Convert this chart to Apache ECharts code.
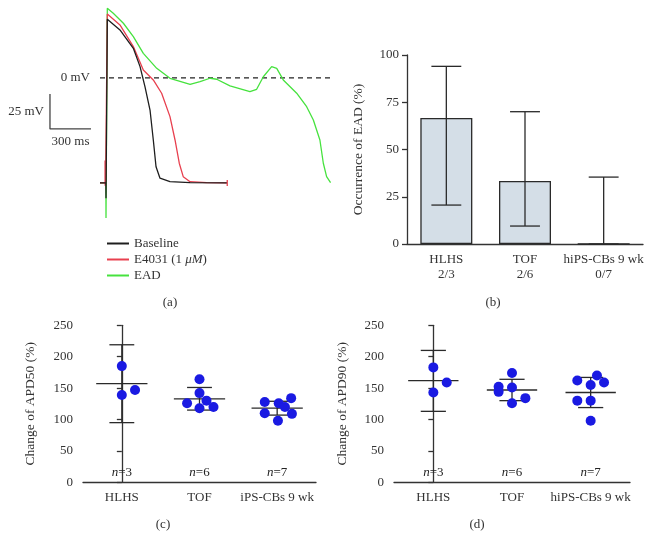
<!DOCTYPE html>
<html>
<head>
<meta charset="utf-8">
<script src="https://cdn.jsdelivr.net/npm/echarts@6/dist/echarts.min.js"></script>
<style>
  html, body { margin: 0; padding: 0; background: #fff; }
  #main { width: 652px; height: 552px; }
</style>
</head>
<body>
<div id="main"></div>
<script>
// (a) action potential traces: [time ms, voltage mV]
var baselineTrace = [[-44,-75],[-1,-75],[0,-86],[9.5,42],[102,34.3],[200,21.2],[249,8.1],[285,-6.2],[322,-22.9],[346,-44.3],[366,-63.4],[395,-71.6],[468,-74.1],[615,-74.8],[883,-75]];
var e4031Trace = [[-44,-75],[-7,-75],[-7,-59],[-6,-77],[-3,-75],[0,-75],[9.5,45.7],[102,37.9],[200,22.4],[273,5.7],[346,-1.4],[407,-10.9],[468,-27.6],[505,-44.3],[536,-60.9],[565,-70.5],[615,-74.1],[736,-74.8],[887,-75],[887,-72.9],[887,-77.1]];
var eadTrace = [[-44,-75],[-1,-75],[0,-100],[9.5,49.8],[53,46.2],[127,39.1],[200,29.5],[273,17.6],[371,6.9],[468,-0.2],[615,-4.5],[688,-2.6],[761,-0.2],[810,-0.9],[907,-5.7],[1053,-9.8],[1102,-8.1],[1151,0.9],[1212,8.1],[1249,6.9],[1297,-1.4],[1395,-10.9],[1468,-20.5],[1517,-30],[1565,-44.3],[1590,-60.9],[1614,-70.5],[1643,-74.8]];
var zeroLine = [[-44,0],[1660,0]];
var scaleBar = [[-410,-11.4],[-410,-36.4],[-110,-36.4]];

// (b) occurrence of EAD
var eadGroups = ['HLHS\n2/3', 'TOF\n2/6', 'hiPS-CBs 9 wk\n0/7'];
var eadPct = [66.7, 33.3, 0];
var eadLow = [20.6, 9.5, 0];
var eadHigh = [94, 70, 35.4];

// (c) change of APD50
var apd50Groups = ['HLHS', 'TOF', 'iPS-CBs 9 wk'];
var apd50 = [[185,139,147],[164,142,126,130,120,118],[128,110,98,126,120,134,109]];
var apd50Jitter = [[0,0,0.17],[0,0,-0.16,0.09,0.18,0],[-0.16,-0.16,0.01,0.02,0.1,0.18,0.19]];
var apd50Mean = [157, 133, 118];
var apd50Low = [95, 115, 107];
var apd50High = [219, 151, 129];

// (d) change of APD90
var apd90Groups = ['HLHS', 'TOF', 'hiPS-CBs 9 wk'];
var apd90 = [[183,143,159],[174,152,144,151,134,126],[162,170,159,155,130,130,98]];
var apd90Jitter = [[0,0,0.17],[0,-0.17,-0.17,0,0.17,0],[-0.17,0.08,0.17,0,-0.17,0,0]];
var apd90Mean = [162, 147, 143];
var apd90Low = [113, 130, 119];
var apd90High = [210, 164, 167];

var nCounts = [3, 6, 7];

var FONT = 'Liberation Serif';
var INK = '#333';

function dots(values, jitter) {
  var out = [];
  values.forEach(function (g, gi) {
    g.forEach(function (v, i) { out.push([gi + jitter[gi][i], v]); });
  });
  return out;
}
function errRows(mean, low, high) {
  return mean.map(function (m, i) { return [i, m, low[i], high[i]]; });
}
function errorRender(capW, meanW) {
  return function (params, api) {
    var x = api.value(0);
    var m = api.coord([x, api.value(1)]);
    var lo = api.coord([x, api.value(2)]);
    var hi = api.coord([x, api.value(3)]);
    var band = api.size([1, 0])[0];
    var st = { stroke: '#2a2a2a', lineWidth: 1.3 };
    var ch = [
      { type: 'line', shape: { x1: m[0], y1: lo[1], x2: m[0], y2: hi[1] }, style: st },
      { type: 'line', shape: { x1: m[0] - capW * band / 2, y1: hi[1], x2: m[0] + capW * band / 2, y2: hi[1] }, style: st },
      { type: 'line', shape: { x1: m[0] - capW * band / 2, y1: lo[1], x2: m[0] + capW * band / 2, y2: lo[1] }, style: st }
    ];
    if (meanW) {
      ch.push({ type: 'line', shape: { x1: m[0] - meanW * band / 2, y1: m[1], x2: m[0] + meanW * band / 2, y2: m[1] }, style: st });
    }
    return { type: 'group', children: ch };
  };
}
function catAxis(grid, cats, lh) {
  return {
    type: 'category', gridIndex: grid, data: cats,
    axisLine: { lineStyle: { color: INK, width: 1.3 } },
    axisTick: { alignWithLabel: true, length: 5, lineStyle: { color: INK, width: 1.3 } },
    axisLabel: { color: INK, fontFamily: FONT, fontSize: 13, margin: 8, lineHeight: lh, interval: 0 }
  };
}
function valAxis(grid, max, interval, name, gap, margin) {
  return {
    type: 'value', gridIndex: grid, min: 0, max: max, interval: interval,
    name: name, nameLocation: 'middle', nameGap: gap, nameRotate: 90,
    nameTextStyle: { color: INK, fontFamily: FONT, fontSize: 13.5 },
    splitLine: { show: false },
    axisLine: { show: true, lineStyle: { color: INK, width: 1.3 } },
    axisTick: { show: true, length: 5, lineStyle: { color: INK, width: 1.3 } },
    axisLabel: { color: INK, fontFamily: FONT, fontSize: 13, margin: margin }
  };
}
function nLabels(xIdx, yIdx) {
  return {
    type: 'scatter', xAxisIndex: xIdx, yAxisIndex: yIdx, symbolSize: 0, silent: true,
    itemStyle: { opacity: 1 },
    data: nCounts.map(function (n, i) { return { value: [i, 15], n: n }; }),
    label: {
      show: true, position: 'inside', color: '#222', fontFamily: FONT, fontSize: 13,
      formatter: function (p) { return '{i|n}=' + p.data.n; },
      rich: { i: { fontStyle: 'italic', fontFamily: FONT, fontSize: 13, color: '#222' } }
    }
  };
}

var chart = echarts.init(document.getElementById('main'));
chart.setOption({
  backgroundColor: '#fff',
  animation: false,
  textStyle: { fontFamily: FONT },
  grid: [
    { left: 40, top: 0, width: 300, height: 230 },
    { left: 407, top: 55, width: 236, height: 189 },
    { left: 83, top: 325.3, width: 233, height: 157 },
    { left: 394, top: 325.3, width: 236, height: 157 }
  ],
  xAxis: [
    { type: 'value', gridIndex: 0, min: -483, max: 1712, show: false },
    catAxis(1, eadGroups, 15),
    catAxis(2, apd50Groups, 15),
    { type: 'value', gridIndex: 2, min: -0.5, max: 2.5, show: false },
    catAxis(3, apd90Groups, 15),
    { type: 'value', gridIndex: 3, min: -0.5, max: 2.5, show: false }
  ],
  yAxis: [
    { type: 'value', gridIndex: 0, min: -108.6, max: 55.7, show: false },
    valAxis(1, 100, 25, 'Occurrence of EAD (%)', 42, 8),
    valAxis(2, 250, 50, 'Change of APD50 (%)', 46, 10),
    valAxis(3, 250, 50, 'Change of APD90 (%)', 45, 10)
  ],
  legend: {
    data: ['Baseline', 'E4031 (1 μM)', 'EAD'],
    orient: 'vertical', left: 101, top: 232,
    itemWidth: 22, itemHeight: 14, itemGap: 3,
    itemStyle: { color: 'transparent', borderColor: 'transparent', borderWidth: 0, opacity: 0 },
    textStyle: {
      color: INK, fontFamily: FONT, fontSize: 13,
      rich: { i: { fontStyle: 'italic', fontFamily: FONT, fontSize: 13, color: INK } }
    },
    formatter: function (name) { return name === 'E4031 (1 μM)' ? 'E4031 (1 {i|μM})' : name; }
  },
  graphic: [
    { type: 'text', style: { text: '(a)', x: 170, y: 303, align: 'center', verticalAlign: 'middle', font: '13px "Liberation Serif"', fill: INK } },
    { type: 'text', style: { text: '(b)', x: 493, y: 303, align: 'center', verticalAlign: 'middle', font: '13px "Liberation Serif"', fill: INK } },
    { type: 'text', style: { text: '(c)', x: 163, y: 525, align: 'center', verticalAlign: 'middle', font: '13px "Liberation Serif"', fill: INK } },
    { type: 'text', style: { text: '(d)', x: 477, y: 525, align: 'center', verticalAlign: 'middle', font: '13px "Liberation Serif"', fill: INK } }
  ],
  series: [
    // (a)
    { type: 'line', name: 'zero', xAxisIndex: 0, yAxisIndex: 0, data: zeroLine, symbol: 'none', silent: true,
      lineStyle: { color: '#222', width: 1.2, type: [5, 4] } },
    { type: 'line', name: 'scale', xAxisIndex: 0, yAxisIndex: 0, data: scaleBar, symbol: 'none', silent: true,
      lineStyle: { color: '#444', width: 1.3 } },
    { type: 'scatter', xAxisIndex: 0, yAxisIndex: 0, symbolSize: 0, silent: true, itemStyle: { opacity: 1 },
      data: [
        { value: [-44, 0], name: '0 mV', label: { position: 'left', distance: 10 } },
        { value: [-410, -23.9], name: '25 mV', label: { position: 'left', distance: 6 } },
        { value: [-260, -36.4], name: '300 ms', label: { position: 'bottom', distance: 6 } }
      ],
      label: { show: true, formatter: '{b}', color: INK, fontFamily: FONT, fontSize: 13 } },
    { type: 'line', name: 'EAD', xAxisIndex: 0, yAxisIndex: 0, data: eadTrace, symbol: 'none',
      itemStyle: { color: '#46e23e' }, lineStyle: { color: '#46e23e', width: 1.3 } },
    { type: 'line', name: 'E4031 (1 μM)', xAxisIndex: 0, yAxisIndex: 0, data: e4031Trace, symbol: 'none',
      itemStyle: { color: '#e8404f' }, lineStyle: { color: '#e8404f', width: 1.3 } },
    { type: 'line', name: 'Baseline', xAxisIndex: 0, yAxisIndex: 0, data: baselineTrace, symbol: 'none',
      itemStyle: { color: '#1e1e1e' }, lineStyle: { color: '#1e1e1e', width: 1.3 } },
    // (b)
    { type: 'bar', xAxisIndex: 1, yAxisIndex: 1, data: eadPct, barWidth: 52,
      itemStyle: { color: '#d4dee7', borderColor: '#2a2a2a', borderWidth: 1.3 } },
    { type: 'custom', xAxisIndex: 1, yAxisIndex: 1, z: 5, renderItem: errorRender(0.38, 0),
      data: errRows(eadPct, eadLow, eadHigh), encode: { x: 0, y: [1, 2, 3] } },
    // (c)
    { type: 'custom', xAxisIndex: 2, yAxisIndex: 2, z: 3, renderItem: errorRender(0.32, 0.66),
      data: errRows(apd50Mean, apd50Low, apd50High), encode: { x: 0, y: [1, 2, 3] } },
    { type: 'scatter', xAxisIndex: 3, yAxisIndex: 2, z: 4, data: dots(apd50, apd50Jitter), symbolSize: 10,
      itemStyle: { color: '#1a1ae2', opacity: 1 } },
    nLabels(2, 2),
    // (d)
    { type: 'custom', xAxisIndex: 4, yAxisIndex: 3, z: 3, renderItem: errorRender(0.32, 0.64),
      data: errRows(apd90Mean, apd90Low, apd90High), encode: { x: 0, y: [1, 2, 3] } },
    { type: 'scatter', xAxisIndex: 5, yAxisIndex: 3, z: 4, data: dots(apd90, apd90Jitter), symbolSize: 10,
      itemStyle: { color: '#1a1ae2', opacity: 1 } },
    nLabels(4, 3)
  ]
});
</script>
</body>
</html>
